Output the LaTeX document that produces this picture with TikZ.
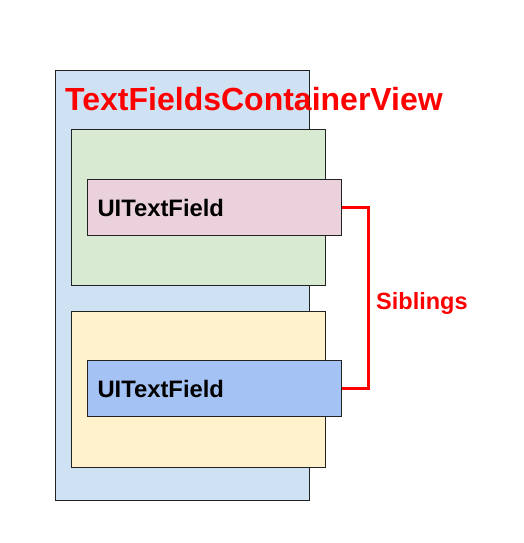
\documentclass[tikz,border=0pt]{standalone}
\usepackage{fontspec}
\setmainfont{Liberation Sans}
\usepackage{xcolor}
\definecolor{outerblue}{HTML}{CFE2F3}
\definecolor{lightgreen}{HTML}{D9EAD3}
\definecolor{lightpink}{HTML}{EAD1DC}
\definecolor{lightyellow}{HTML}{FFF2CC}
\definecolor{fieldblue}{HTML}{A4C2F4}
\definecolor{edge}{HTML}{222222}
\definecolor{sibred}{HTML}{FF0000}

\begin{document}
\begin{tikzpicture}[x=1pt, y=-1pt,
  box/.style={draw=edge, line width=1pt, inner sep=0pt, anchor=north west},
  holder/.style={box, minimum width=254pt, minimum height=156pt},
  field/.style={box, minimum width=254pt, minimum height=56pt,
                text width=234pt, inner xsep=10pt, align=left,
                font=\fontsize{23.8}{28}\selectfont\bfseries},
  bracket/.style={draw=sibred, line width=3pt},
]
  \useasboundingbox (0,0) rectangle (524,543);

  % Container
  \node[box, fill=outerblue, minimum width=254pt, minimum height=430pt] (container) at (55,70) {};
  \node[anchor=base west, text=sibred, inner sep=0pt,
        font=\fontsize{32}{36}\selectfont\bfseries] (title) at (65,110) {TextFieldsContainerView};

  % Holders
  \node[holder, fill=lightgreen] (upper) at (71,129) {};
  \node[holder, fill=lightyellow] (lower) at (71,311) {};

  % Text fields
  \node[field, fill=lightpink] (topfield) at (87,179) {UITextField};
  \node[field, fill=fieldblue] (botfield) at (87,360) {UITextField};

  % Siblings bracket
  \draw[bracket] (topfield.east) -- ++(26,0) |- (botfield.east);
  \node[anchor=base west, text=sibred, inner sep=0pt,
        font=\fontsize{23.5}{28}\selectfont\bfseries] (siblings) at (376,309) {Siblings};
\end{tikzpicture}
\end{document}
